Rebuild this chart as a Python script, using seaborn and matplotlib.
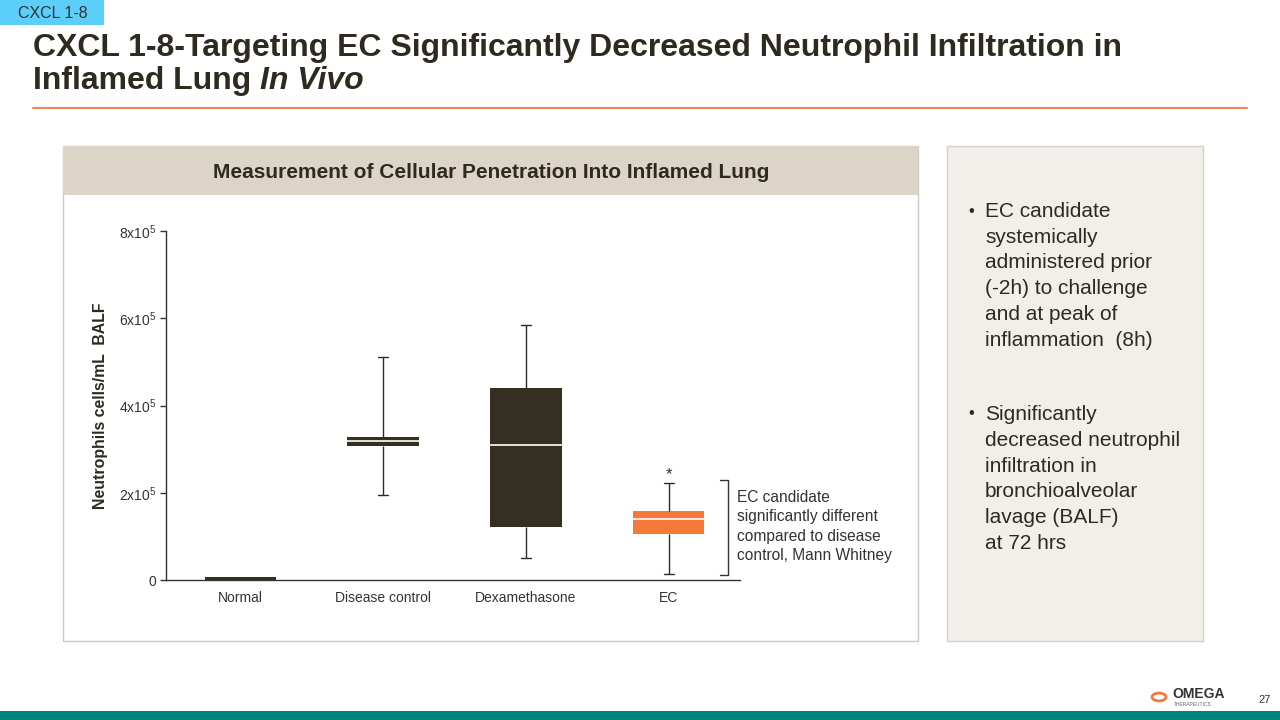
"""
Slide recreation: box plot of neutrophil counts in BALF per treatment group.
"""

import matplotlib.pyplot as plt
import matplotlib.patches as mpatches
import numpy as np
import pandas as pd
import seaborn as sns

# Data: five-number summaries per group
groups = ['Normal', 'Disease control', 'Dexamethasone', 'EC']
whisker_low = [0.0, 1.95e5, 0.50e5, 0.14e5]
q1 = [0.0, 3.07e5, 1.22e5, 1.05e5]
median = [0.04e5, 3.19e5, 3.10e5, 1.40e5]
q3 = [0.08e5, 3.28e5, 4.40e5, 1.58e5]
whisker_high = [0.08e5, 5.11e5, 5.85e5, 2.22e5]

y_ticks = [0, 2e5, 4e5, 6e5, 8e5]
y_tick_labels = ['0', r'2x10$^{5}$', r'4x10$^{5}$', r'6x10$^{5}$', r'8x10$^{5}$']

box_colors = ['#352F22', '#352F22', '#352F22', '#F47A3A']

bullets = [
    'EC candidate\nsystemically\nadministered prior\n(-2h) to challenge\nand at peak of\ninflammation  (8h)',
    'Significantly\ndecreased neutrophil\ninfiltration in\nbronchioalveolar\nlavage (BALF)\nat 72 hrs',
]

note = 'EC candidate\nsignificantly different\ncompared to disease\ncontrol, Mann Whitney'

# With five points per group the quartiles come out exactly as given
rows = []
for i, g in enumerate(groups):
    for v in (whisker_low[i], q1[i], median[i], q3[i], whisker_high[i]):
        rows.append({'group': g, 'value': v})
df = pd.DataFrame(rows)

sns.set_style('white')
plt.rcParams['font.family'] = ['Liberation Sans', 'DejaVu Sans']
plt.rcParams['mathtext.fontset'] = 'custom'
plt.rcParams['mathtext.rm'] = 'Liberation Sans'

W, H = 1280, 720
fig = plt.figure(figsize=(12.8, 7.2), dpi=100)
fig.patch.set_facecolor('white')


def px(x, y):
    """Convert pixel coords (top-left origin) to figure fractions."""
    return x / W, 1 - y / H


def rect(x0, y0, x1, y1, **kw):
    """Add a rectangle in pixel coords to the figure."""
    fx, fy = px(x0, y1)
    r = mpatches.Rectangle((fx, fy), (x1 - x0) / W, (y1 - y0) / H,
                           transform=fig.transFigure, zorder=0, **kw)
    fig.add_artist(r)
    return r


dark = '#2E2A20'

# Header: tag, title, rule
rect(0, 0, 104, 25, facecolor='#5BCEFA', edgecolor='none')
fig.text(*px(53, 13), 'CXCL 1-8', ha='center', va='center', fontsize=11.5, color='#333333')
fig.text(*px(33, 48), 'CXCL 1-8-Targeting EC Significantly Decreased Neutrophil Infiltration in',
         fontsize=23, fontweight='bold', color=dark, va='center')
t2 = fig.text(*px(33, 81), 'Inflamed Lung ', fontsize=23, fontweight='bold',
              color=dark, va='center')
renderer = fig.canvas.get_renderer()
x_end = t2.get_window_extent(renderer).x1
fig.text(x_end / W, 1 - 81 / H, 'In Vivo', fontsize=23, fontweight='bold',
         fontstyle='italic', color=dark, va='center')
fig.add_artist(plt.Line2D([33 / W, 1247 / W], [1 - 107.5 / H] * 2, color='#E88A55',
                          lw=1.5, transform=fig.transFigure))

# Chart panel
rect(63, 146, 918, 641, facecolor='white', edgecolor='#CFCBC3', lw=1)
rect(63, 146, 918, 195, facecolor='#DCD4C6', edgecolor='none')
fig.text(*px(491, 172), 'Measurement of Cellular Penetration Into Inflamed Lung',
         ha='center', va='center', fontsize=15, fontweight='bold', color=dark)

# Side panel
rect(947, 146, 1203, 641, facecolor='#F2EFEA', edgecolor='#D6D1C8', lw=1)
by = [202, 405]
for b, y in zip(bullets, by):
    fig.text(*px(968, y + 9), '\u2022', fontsize=12, color=dark, va='center')
    fig.text(*px(985, y), b, fontsize=15, color=dark, va='top', linespacing=1.45)

# Footer
rect(0, 711, 1280, 720, facecolor='#00857D', edgecolor='none')
fig.text(*px(1271, 700), '27', fontsize=8, color='#333333', ha='right', va='center')
fig.text(*px(1172, 694), 'OMEGA', fontsize=10, fontweight='bold', color='#333333',
         va='center')
fig.text(*px(1174, 705), 'THERAPEUTICS', fontsize=3.5, color='#666666', va='center')
fig.add_artist(mpatches.Circle(px(1159, 697), 7 / W, transform=fig.transFigure,
                               facecolor='none', edgecolor='#F47A3A', lw=2))

# Box plot axes
l, b_ = px(166, 580)
ax = fig.add_axes([l, b_, (740 - 166) / W, (580 - 231) / H])
ax.set_zorder(5)
sns.boxplot(data=df, x='group', y='value', hue='group', palette=box_colors,
            legend=False, whis=(0, 100), width=0.5, saturation=1, ax=ax,
            linecolor='#2B2B2B', linewidth=1,
            medianprops={'color': 'white', 'linewidth': 1.2},
            boxprops={'edgecolor': 'none'})

# shorten caps, hide the median of the flat Normal box
for line in ax.lines:
    xd = np.asarray(line.get_xdata(), dtype=float)
    yd = np.asarray(line.get_ydata(), dtype=float)
    if len(xd) != 2 or yd[0] != yd[1]:
        continue
    width = abs(xd[1] - xd[0])
    c = xd.mean()
    if width < 0.3:
        line.set_xdata([c - 0.035, c + 0.035])
        if abs(c) < 0.1:
            line.set_visible(False)
    elif abs(c) < 0.1:
        line.set_color(box_colors[0])

ax.set_xlim(-0.52, 3.5)
ax.set_ylim(0, 8e5)
ax.set_yticks(y_ticks)
ax.set_yticklabels(y_tick_labels)
ax.tick_params(axis='y', length=4, width=1, color='#333333', labelsize=10,
               labelcolor='#333333', pad=3, left=True)
ax.tick_params(axis='x', length=0, labelsize=10, labelcolor='#333333', pad=8)
ax.set_xlabel('')
ax.set_ylabel('Neutrophils cells/mL  BALF', fontsize=11.4, fontweight='bold',
              color=dark, labelpad=8)
for s in ('top', 'right'):
    ax.spines[s].set_visible(False)
for s in ('left', 'bottom'):
    ax.spines[s].set_color('#333333')
    ax.spines[s].set_linewidth(1)
ax.set_facecolor('none')

# Significance star and bracket
ax.text(3, whisker_high[3] + 0.03e5, '*', ha='center', va='bottom', fontsize=12,
        color='#333333')
fig.add_artist(plt.Line2D([720 / W, 728 / W, 728 / W, 720 / W],
                          [1 - 480 / H, 1 - 480 / H, 1 - 575 / H, 1 - 575 / H],
                          color='#333333', lw=1, transform=fig.transFigure))
fig.text(*px(737, 490), note, fontsize=11.2, color='#333333', va='top',
         linespacing=1.36)

fig.savefig('out.png', dpi=100)
